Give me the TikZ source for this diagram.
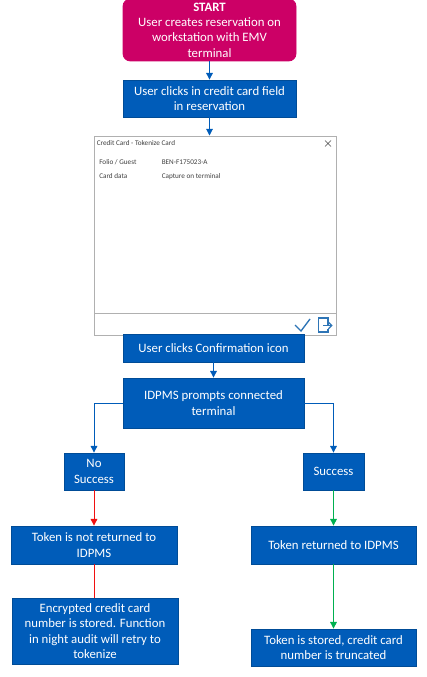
\documentclass[tikz,border=0pt]{standalone}
\usepackage{fontspec}
\setmainfont{Carlito}
\usetikzlibrary{arrows.meta}
\definecolor{cnblue}{HTML}{005CB9}
\definecolor{cnedge}{HTML}{004C97}
\definecolor{cnrose}{HTML}{CC0066}
\definecolor{cnred}{HTML}{F01010}
\definecolor{cngreen}{HTML}{00B050}
\definecolor{cngrey}{HTML}{B0B0B0}
\definecolor{cnicon}{HTML}{2E75B6}
\tikzset{
  stepbox/.style={draw=cnedge, line width=0.6pt, fill=cnblue, text=white, align=center, inner sep=0pt, font=\fontsize{9.6}{11.5}\selectfont},
  startbox/.style={stepbox, draw=cnrose, fill=cnrose, rounded corners=5.5pt},
  wintext/.style={inner sep=0pt, anchor=west, text=black!75, font=\fontsize{5.4}{6}\selectfont},
  flow/.style={line width=0.7pt, draw=#1, -{Triangle[width=5pt,length=5pt,fill=#1]}},
  flowplain/.style={line width=0.7pt, draw=#1}
}
\begin{document}
\begin{tikzpicture}[x=0.75pt, y=-0.75pt]
  \useasboundingbox (0,0) rectangle (426,677);
  % dialog
  \node[draw=cngrey, line width=0.7pt, fill=white, minimum width=181.5pt, minimum height=149.25pt, inner sep=0pt] (win) at (215.75,235.5) {};
  \coordinate (footl) at (94.5,313);
  \coordinate (footr) at (337,313);
  \draw[cngrey, line width=0.7pt] (footl) -- (footr);
  \node[wintext] (wintitle) at (96.5,143) {Credit Card - Tokenize Card};
  \node[wintext] (folio) at (99,162.5) {Folio / Guest};
  \node[wintext] (foliov) at (161.5,162.5) {BEN-F175023-A};
  \node[wintext] (card) at (99,176.5) {Card data};
  \node[wintext] (cardv) at (161.5,176.5) {Capture on terminal};
  \draw[black!70, line width=0.5pt] (325,140.5) -- (331,146.5) (331,140.5) -- (325,146.5);
  \draw[cnicon, line width=1pt] (295,325) -- (301,331) -- (310,319);
  \draw[cnicon, line width=0.8pt] (328,325) -- (328,318) -- (318.5,318) -- (318.5,332) -- (328,332) -- (328,329);
  \draw[cnicon, line width=0.8pt, -{Straight Barb[length=2.5pt,width=5pt]}] (323,325.5) -- (332.5,325.5);
  % steps
  \node[startbox, minimum width=129.75pt, minimum height=46.5pt] (start) at (209.5,30) {\textbf{START}\\User creates reservation on\\workstation with EMV\\terminal};
  \node[stepbox, minimum width=129.75pt, minimum height=27.75pt] (field) at (209.5,98.5) {User clicks in credit card field\\in reservation};
  \node[stepbox, minimum width=135.75pt, minimum height=21pt] (confirm) at (213.5,348) {User clicks Confirmation icon};
  \node[stepbox, minimum width=135.75pt, minimum height=37.5pt] (prompt) at (213.5,403) {IDPMS prompts connected\\terminal};
  \node[stepbox, minimum width=45pt, minimum height=27.75pt] (fail) at (94,471.5) {No\\Success};
  \node[stepbox, minimum width=45.75pt, minimum height=27.75pt] (ok) at (333.5,471.5) {Success};
  \node[stepbox, minimum width=124.5pt, minimum height=28.5pt] (noret) at (94,545) {Token is not returned to\\IDPMS};
  \node[stepbox, minimum width=123.75pt, minimum height=28.5pt] (ret) at (333.5,545) {Token returned to IDPMS};
  \node[stepbox, minimum width=124.5pt, minimum height=49.5pt] (enc) at (95,631) {Encrypted credit card\\number is stored. Function\\in night audit will retry to\\tokenize};
  \node[stepbox, minimum width=123.75pt, minimum height=27.75pt] (stored) at (333.5,647.5) {Token is stored, credit card\\number is truncated};
  % connectors
  \draw[flow=cnblue] (start) -- (field);
  \draw[flow=cnblue] (field) -- (field |- win.north);
  \draw[flow=cnblue] (confirm) -- (prompt);
  \draw[flow=cnblue] (prompt.west) -| (fail.north);
  \draw[flow=cnblue] (prompt.east) -| (ok.north);
  \draw[flow=cnred] (fail) -- (noret);
  \draw[flowplain=cnred] (noret.south) -- (noret.south |- enc.north);
  \draw[flow=cngreen] (ok) -- (ret);
  \draw[flow=cngreen] (ret) -- (stored);
\end{tikzpicture}
\end{document}
